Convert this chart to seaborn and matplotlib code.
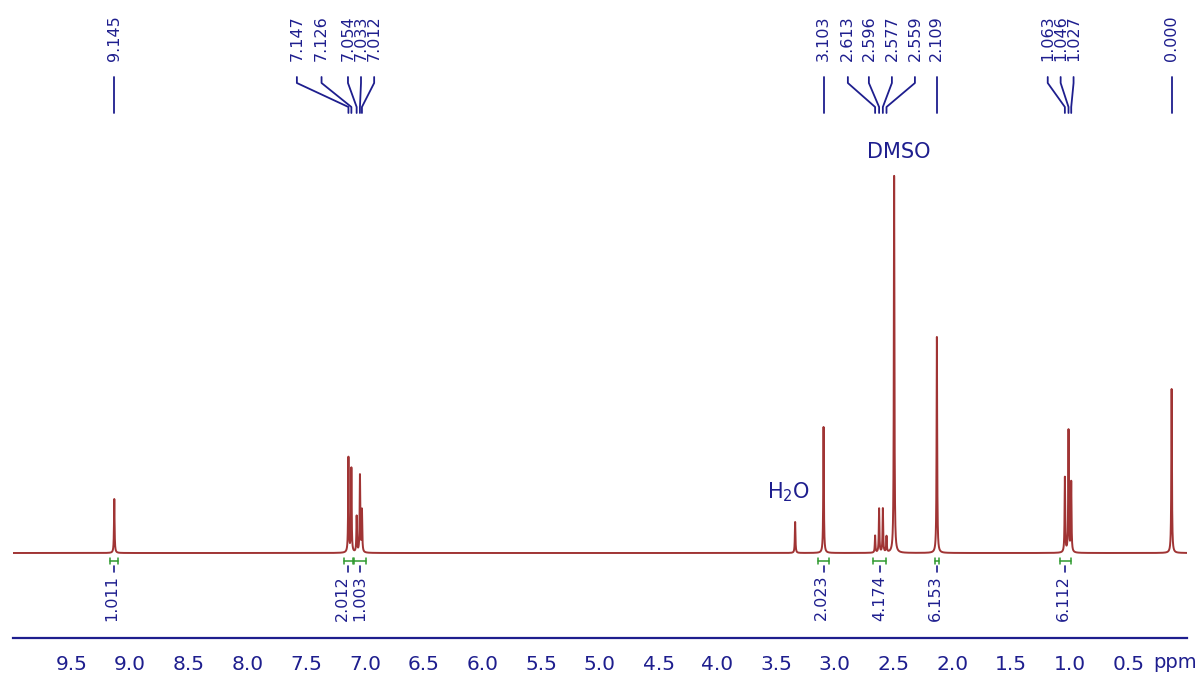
import numpy as np
import pandas as pd
import matplotlib
matplotlib.use("Agg")
import matplotlib.pyplot as plt
import seaborn as sns

# ---------------- data ----------------
# drawn peaks: chemical shift (ppm) and height (arbitrary units)
peak_ppm = [9.135,
            7.141, 7.116, 7.071, 7.043, 7.026,
            3.337,
            3.095,
            2.656, 2.622, 2.590, 2.559,
            2.494,
            2.130,
            1.040, 1.009, 0.986,
            0.131]
peak_height = [54,
               95, 84, 36, 77, 42,
               31,
               126,
               17, 44, 44, 16,
               377,
               216,
               75, 122, 70,
               164]

# peak-pick labels (text), the drawn peak each one points to, and where its text sits (ppm)
pick_labels = ["9.145",
               "7.147", "7.126", "7.054", "7.033", "7.012",
               "3.103",
               "2.613", "2.596", "2.577", "2.559",
               "2.109",
               "1.063", "1.046", "1.027",
               "0.000"]
pick_anchor_ppm = [9.135,
                   7.141, 7.116, 7.071, 7.043, 7.026,
                   3.095,
                   2.656, 2.622, 2.590, 2.559,
                   2.130,
                   1.040, 1.009, 0.986,
                   0.131]
pick_text_ppm = [9.135,
                 7.58, 7.37, 7.145, 7.034, 6.922,
                 3.095,
                 2.888, 2.709, 2.513, 2.317,
                 2.130,
                 1.186, 1.076, 0.966,
                 0.131]

# integrals: value, ppm range, and where the value text sits (ppm)
integral_values = ["1.011", "2.012", "1.003", "2.023", "4.174", "6.153", "6.112"]
integral_start = [9.17, 7.18, 7.095, 3.14, 2.67, 2.15, 1.085]
integral_end = [9.10, 7.105, 6.995, 3.05, 2.565, 2.11, 0.99]
integral_text_ppm = [9.16, 7.19, 7.045, 3.115, 2.62, 2.14, 1.05]

# solvent labels
solvent_labels = ["DMSO", r"H$_2$O"]
solvent_ppm = [2.454, 3.391]
solvent_y = [401, 61]

tick_values = [9.5, 9.0, 8.5, 8.0, 7.5, 7.0, 6.5, 6.0, 5.5, 5.0, 4.5, 4.0, 3.5, 3.0, 2.5, 2.0, 1.5, 1.0, 0.5]
tick_labels = ["9.5", "9.0", "8.5", "8.0", "7.5", "7.0", "6.5", "6.0", "5.5", "5.0",
               "4.5", "4.0", "3.5", "3.0", "2.5", "2.0", "1.5", "1.0", "0.5"]

# ---------------- style ----------------
SPEC = "#a03434"
NAVY = "#1e1e8e"
GREEN = "#2f9a2f"
GAMMA = 0.003  # Lorentzian half width (ppm)

sns.set_theme(style="white")
plt.rcParams["font.family"] = ["DejaVu Sans"]

# spectrum from the peak list (Lorentzian line shapes)
grid = np.linspace(10.0, 0.0, 40001)
spec = np.zeros_like(grid)
for p, h in zip(peak_ppm, peak_height):
    spec += h / (1.0 + ((grid - p) / GAMMA) ** 2)
df = pd.DataFrame({"ppm": grid, "intensity": spec})

W, H = 1202, 681
fig = plt.figure(figsize=(W / 100, H / 100), dpi=100)
left_px, right_px, axis_px = 12.7, 1187.0, 638.0
ax = fig.add_axes([left_px / W, (H - axis_px) / H, (right_px - left_px) / W, axis_px / H])

sns.lineplot(data=df, x="ppm", y="intensity", ax=ax, color=SPEC, linewidth=1.4,
             estimator=None, sort=False)

ax.set_xlim(10.0, 0.0)
ax.set_ylim(-85, 553)
for s in ["top", "left", "right"]:
    ax.spines[s].set_visible(False)
ax.spines["bottom"].set_color(NAVY)
ax.spines["bottom"].set_linewidth(1.6)
ax.set_yticks([])
ax.set_xticks(tick_values)
ax.set_xticklabels(tick_labels)
ax.set_xticks(np.round(np.arange(0.0, 10.001, 0.1), 2), minor=True)
ax.tick_params(axis="x", which="major", direction="out", length=6, width=1.2,
               color=NAVY, labelcolor=NAVY, labelsize=14.5, pad=6)
ax.tick_params(axis="x", which="minor", direction="out", length=3, width=1.0, color=NAVY)
ax.set_xlabel("")
ax.set_ylabel("")

# "ppm" unit label
ax.text(0.10, -100, "ppm", color=NAVY, fontsize=14, ha="center", va="top", clip_on=False)

# peak-pick labels and connector lines
for lab, anc, tx in zip(pick_labels, pick_anchor_ppm, pick_text_ppm):
    ax.plot([tx, tx, anc, anc], [476, 470, 446, 440], color=NAVY, linewidth=1.3,
            solid_joinstyle="round", clip_on=False)
    ax.text(tx, 492, lab, rotation=90, ha="center", va="bottom", color=NAVY,
            fontsize=11.5, clip_on=False)

# integrals
for val, a, b, t in zip(integral_values, integral_start, integral_end, integral_text_ppm):
    c = (a + b) / 2
    ax.plot([a, b], [-8, -8], color=GREEN, linewidth=1.1, clip_on=False)
    ax.plot([a, a], [-5, -11], color=GREEN, linewidth=1.1, clip_on=False)
    ax.plot([b, b], [-5, -11], color=GREEN, linewidth=1.1, clip_on=False)
    ax.plot([c, c], [-13, -19], color=NAVY, linewidth=1.2, clip_on=False)
    ax.text(t, -22, val, rotation=90, ha="center", va="top", color=NAVY,
            fontsize=11.5, clip_on=False)

# solvent labels
for lab, p, y in zip(solvent_labels, solvent_ppm, solvent_y):
    ax.text(p, y, lab, ha="center", va="center", color=NAVY, fontsize=15)

fig.savefig("out.png", dpi=100)
